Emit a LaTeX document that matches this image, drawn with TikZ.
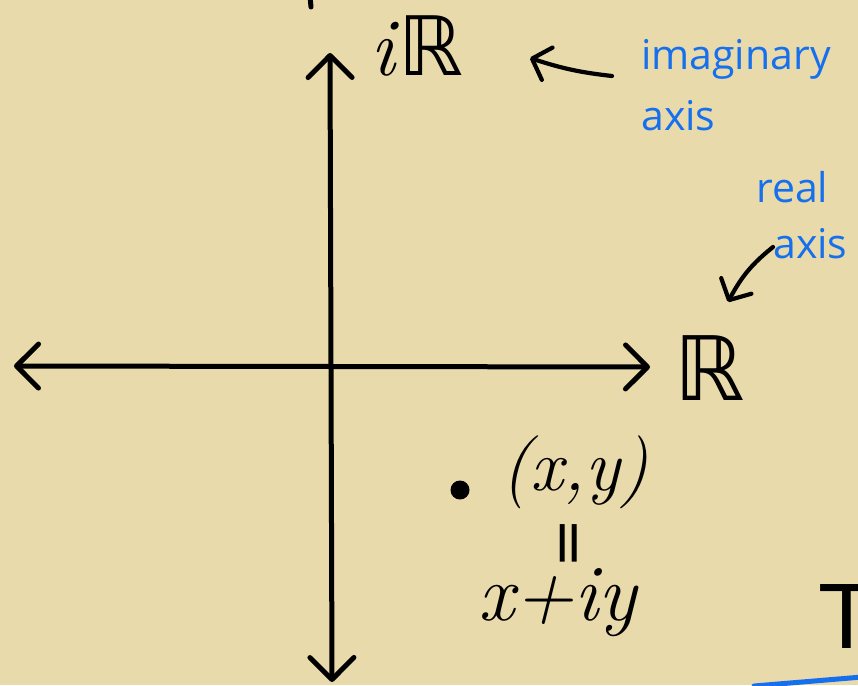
\documentclass[tikz,border=0pt]{standalone}
\usepackage{fontspec}
\newfontfamily\handfont{Open Sans}
\newfontfamily\dvfont{DejaVu Sans}
\newfontfamily\tfont{Liberation Sans}
\usetikzlibrary{arrows.meta,bending}
\definecolor{paper}{RGB}{233,218,172}
\definecolor{inkblue}{RGB}{22,112,238}
\tikzset{
  axisline/.style={line width=5pt, line cap=round,
    {Straight Barb[length=22pt,width=44pt,round]}-{Straight Barb[length=22pt,width=44pt,round]}},
  pointer/.style={line width=4.2pt, line cap=round,
    -{Straight Barb[length=16pt,width=34pt,round]}},
  bluelabel/.style={inkblue, font=\handfont\fontsize{41}{41}\selectfont, anchor=base west, inner sep=0pt},
  blacklabel/.style={black, anchor=base west, inner sep=0pt},
}
\begin{document}
\begin{tikzpicture}[x=1pt,y=-1pt]
\fill[paper] (0,0) rectangle (858,685);
\useasboundingbox (0,0) rectangle (858,685);
\clip (0,0) rectangle (858,685);

% axes
\coordinate (vtop) at (330,53);
\coordinate (vbot) at (332,682);
\coordinate (hleft) at (14,366);
\coordinate (hright) at (650,367);
\draw[axisline] (vbot) -- (vtop);
\draw[axisline] (hleft) -- (hright);

% stroke cut off at the top
\draw[line width=5pt, line cap=round] (310,-4) -- (311,7);

% axis labels
\node[blacklabel, font=\fontsize{82}{82}\selectfont] (iR) at (370,75) {\itshape i\/\upshape{\dvfont ℝ}};
\node[blacklabel, font=\dvfont\fontsize{89}{89}\selectfont] (R) at (674,400) {ℝ};

% blue annotations
\node[bluelabel] (imag) at (641,70) {imaginary};
\node[bluelabel] (imagaxis) at (641,130) {axis};
\node[bluelabel] (real) at (756,202) {real};
\node[bluelabel] (realaxis) at (773,258) {axis};

% annotation arrows
\coordinate (ia1) at (612,76);
\coordinate (ia2) at (530,58);
\draw[pointer] (ia1) to[bend left=6] (ia2);
\coordinate (ra1) at (773,247);
\coordinate (ra2) at (728,302);
\draw[pointer] (ra1) to[bend right=12] (ra2);

% point
\node[circle, fill=black, minimum size=19pt, inner sep=0pt] (pt) at (460,490) {};
\node[blacklabel, font=\fontsize{73}{73}\selectfont] (xy) at (501,490) {\itshape (x,y)};
\node[rotate=90, inner sep=0pt] (eq) at (574,543) {\dvfont\fontsize{60}{60}\selectfont =};
\node[blacklabel, font=\fontsize{80}{80}\selectfont] (xiy) at (478,620) {\itshape x+iy};

% cut-off letter and blue stroke
\node[blacklabel, font=\tfont\fontsize{93}{93}\selectfont] (T) at (818,648) {T};
\draw[inkblue, line width=5pt, line cap=round] (754,686) -- (862,677);
\end{tikzpicture}
\end{document}
